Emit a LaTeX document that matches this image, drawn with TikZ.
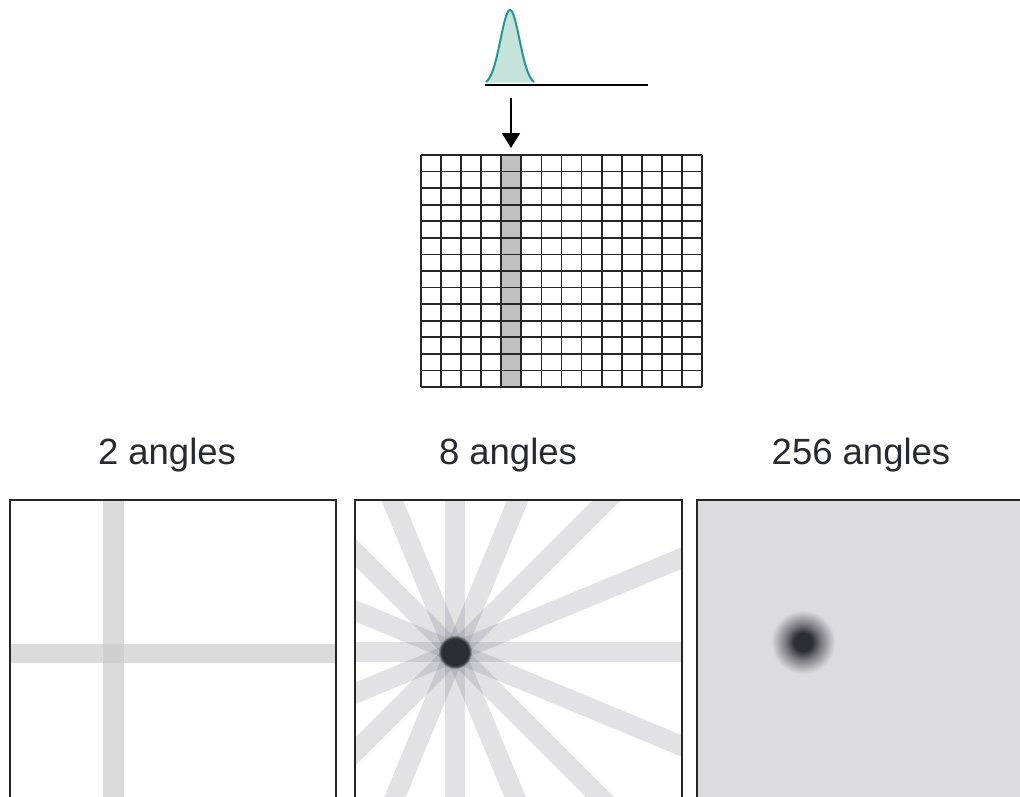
\documentclass[tikz,border=0pt]{standalone}
\usepackage{fontspec}
\setmainfont{Liberation Sans}
\usetikzlibrary{arrows.meta,fadings,calc}
\definecolor{teal1}{RGB}{35,150,150}
\definecolor{tealfill}{RGB}{197,227,218}
\definecolor{cellgray}{RGB}{192,192,192}
\definecolor{raycol}{RGB}{60,60,80}
\definecolor{bgthree}{RGB}{220,220,224}
\definecolor{blobdark}{RGB}{45,45,52}
\definecolor{txtcol}{RGB}{40,40,48}
\tikzset{
  frame/.style={line width=2pt, draw=black!85},
  gridline/.style={line width=1.8pt, draw=black!85},
  ray/.style={line width=20pt, draw=raycol, draw opacity=0.15},
  label/.style={font=\fontsize{36.5}{40}\selectfont, text=txtcol, anchor=base, inner sep=0pt},
}
\pgfdeclareradialshading{blobshade}{\pgfpoint{0bp}{0bp}}{%
  color(0bp)=(blobdark); color(4.5bp)=(blobdark); color(9bp)=(blobdark!55!bgthree);
  color(16bp)=(bgthree); color(50bp)=(bgthree)}
\begin{document}
\begin{tikzpicture}[x=1pt,y=-1pt]
\useasboundingbox (0,0) rectangle (1020,796);
% pulse
\coordinate (pulse) at (510,85);
\fill[tealfill] plot[domain=485:535,samples=60,smooth] (\x,{85-75*exp(-((\x-510)^2)/(2*9.5^2))}) -- cycle;
\draw[teal1,line width=2pt] plot[domain=486:534,samples=60,smooth] (\x,{85-75*exp(-((\x-510)^2)/(2*9.5^2))});
\draw[line width=1.6pt] (485,85) -- (648,85);
% arrow
\coordinate (arrowstart) at (511,98);
\coordinate (arrowend) at (511,148);
\draw[line width=1.6pt,-{Triangle[width=18pt,length=15pt]}] (arrowstart) -- (arrowend);
% grid
\node[minimum width=281pt,minimum height=232pt,inner sep=0pt,anchor=north west] (grid) at (421,155) {};
\fill[cellgray] (501,155) rectangle (521,387);
\foreach \i in {0,...,14} {
  \draw[gridline] ({421+\i*281/14},155) -- ({421+\i*281/14},387);
  \draw[gridline] (421,{155+\i*232/14}) -- (702,{155+\i*232/14});
}
% labels
\node[label] (l2) at (167,464) {2 angles};
\node[label] (l8) at (508,464) {8 angles};
\node[label] (l256) at (861,464) {256 angles};
% box 1
\coordinate (b1) at (114,653);
\begin{scope}
\clip (10,500) rectangle (336,800);
\fill[black!14] (103,500) rectangle (124,800);
\fill[black!14] (10,644) rectangle (336,663);
\fill[black!19] (103,644) rectangle (124,663);
\end{scope}
\draw[frame] (10,800) -- (10,500) -- (336,500) -- (336,800);
% box 2
\coordinate (c2) at (455,652);
\begin{scope}
\clip (355,500) rectangle (682,800);
\foreach \a in {0,22.5,...,157.5} {
  \draw[ray] ($(c2)+(\a:400)$) -- ($(c2)+(\a+180:400)$);
}
\fill[blobdark,path fading=circle with fuzzy edge 20 percent] (c2) circle (17);
\fill[blobdark] (c2) circle (9);
\end{scope}
\draw[frame] (355,800) -- (355,500) -- (682,500) -- (682,800);
% box 3
\coordinate (c3) at (803,642);
\fill[bgthree] (697,500) rectangle (1020,800);
\shade[shading=blobshade] (c3) circle (50);
\draw[frame] (697,800) -- (697,500) -- (1021,500);
\end{tikzpicture}
\end{document}
